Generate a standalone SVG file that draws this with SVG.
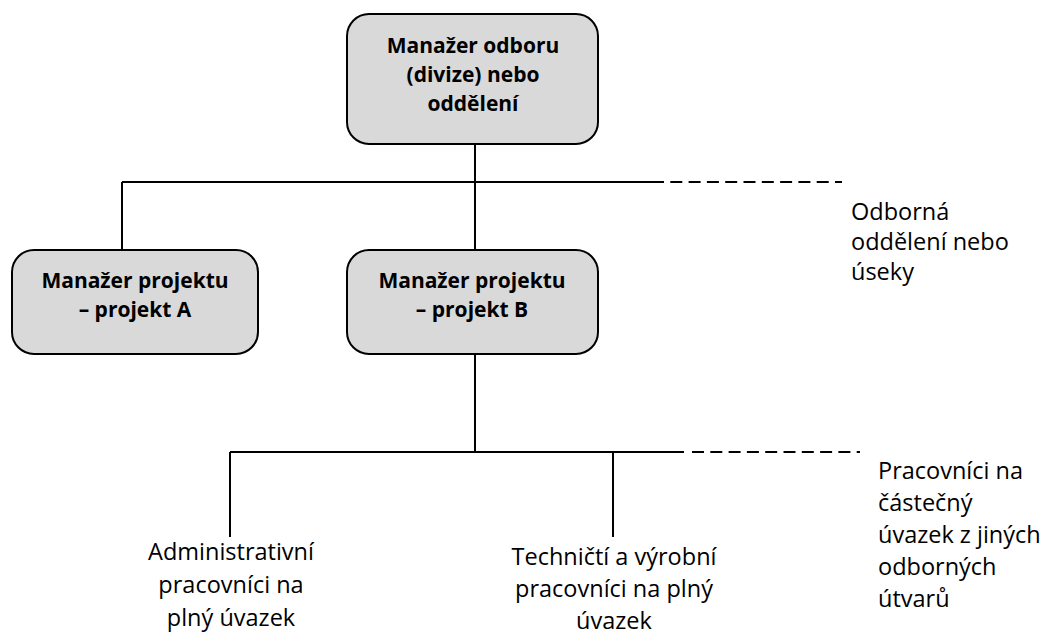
<svg xmlns="http://www.w3.org/2000/svg" width="1043" height="634" viewBox="0 0 1043 634">
<style>
.box{fill:#d9d9d9;stroke:#000;stroke-width:2}
.bt{font-family:"Open Sans","Liberation Sans",sans-serif;font-weight:bold;font-size:21px;fill:#000;text-anchor:middle}
.t{font-family:"Open Sans","Liberation Sans",sans-serif;font-size:23.5px;fill:#000}
.c{text-anchor:middle}
.ln{stroke:#000;stroke-width:2;fill:none}
.ds{stroke:#000;stroke-width:2;fill:none;stroke-dasharray:12 6.3}
</style>
<g id="connectors">
<line class="ln" x1="475" y1="144" x2="475" y2="250"/>
<line class="ln" x1="122" y1="182" x2="652" y2="182"/>
<line class="ds" x1="652" y1="182" x2="842" y2="182"/>
<line class="ln" x1="122" y1="182" x2="122" y2="251"/>
<line class="ln" x1="475" y1="354" x2="475" y2="452"/>
<line class="ln" x1="230" y1="452" x2="684" y2="452"/>
<line class="ds" x1="692" y1="452" x2="860" y2="452"/>
<line class="ln" x1="230" y1="452" x2="230" y2="537"/>
<line class="ln" x1="613" y1="452" x2="613" y2="537"/>
</g>
<g id="node-top">
<rect class="box" x="347" y="14" width="251" height="130" rx="22"/>
<text class="bt" x="473" y="53">Manažer odboru</text>
<text class="bt" x="473" y="82">(divize) nebo</text>
<text class="bt" x="473" y="111">oddělení</text>
</g>
<g id="node-a">
<rect class="box" x="12" y="250" width="246" height="104" rx="22"/>
<text class="bt" x="135" y="288">Manažer projektu</text>
<text class="bt" x="135" y="317">– projekt A</text>
</g>
<g id="node-b">
<rect class="box" x="347" y="250" width="251" height="104" rx="22"/>
<text class="bt" x="472" y="288">Manažer projektu</text>
<text class="bt" x="472" y="317">– projekt B</text>
</g>
<g id="label-odborna">
<text class="t" x="851" y="220">Odborná</text>
<text class="t" x="851" y="250">oddělení nebo</text>
<text class="t" x="851" y="280">úseky</text>
</g>
<g id="label-admin">
<text class="t c" x="231" y="560">Administrativní</text>
<text class="t c" x="231" y="593">pracovníci na</text>
<text class="t c" x="231" y="626">plný úvazek</text>
</g>
<g id="label-tech">
<text class="t c" x="614" y="565">Techničtí a výrobní</text>
<text class="t c" x="614" y="597">pracovníci na plný</text>
<text class="t c" x="614" y="629">úvazek</text>
</g>
<g id="label-part">
<text class="t" x="878" y="479">Pracovníci na</text>
<text class="t" x="878" y="511">částečný</text>
<text class="t" x="878" y="543">úvazek z jiných</text>
<text class="t" x="878" y="575">odborných</text>
<text class="t" x="878" y="607">útvarů</text>
</g>
</svg>
